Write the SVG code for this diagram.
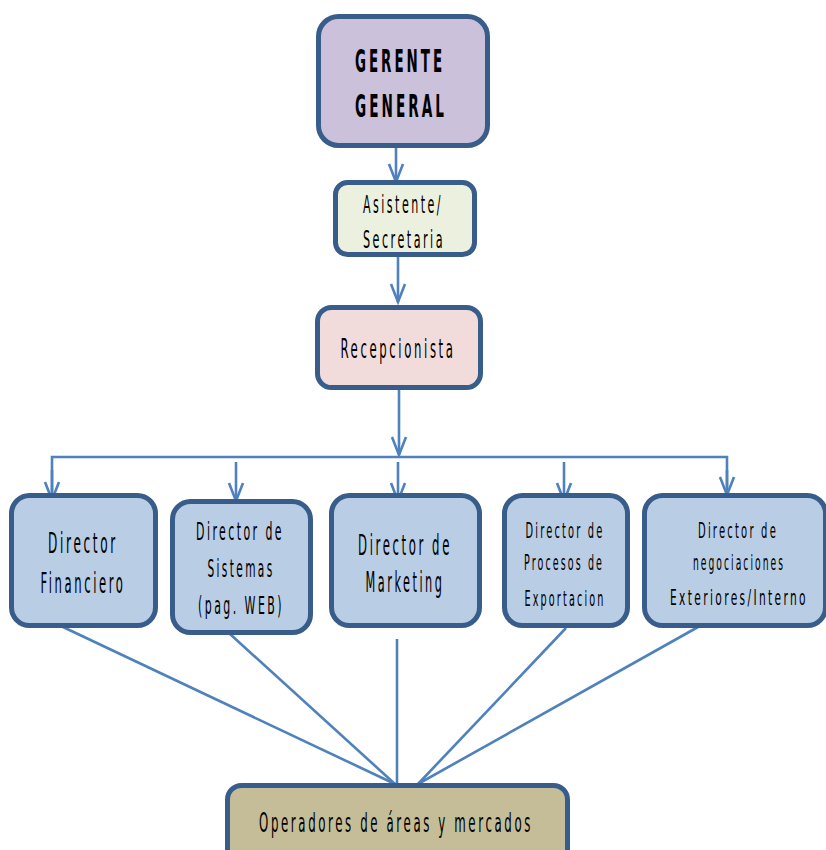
<svg xmlns="http://www.w3.org/2000/svg" width="826" height="850" viewBox="0 0 826 850">
<defs>
<style>
.box{stroke:#385D8A;stroke-width:5}
.t{font-family:"DejaVu Sans Condensed","DejaVu Sans",sans-serif;fill:#000;text-anchor:middle;letter-spacing:0.2em}
.c{stroke:#4F81BD;stroke-width:2.6;fill:none}
</style>
<marker id="ah" markerUnits="userSpaceOnUse" markerWidth="40" markerHeight="40" refX="0" refY="0" orient="auto" overflow="visible">
<path d="M-18,-7 L0,0 L-18,7" fill="none" stroke="#4F81BD" stroke-width="2.6"/>
</marker>
</defs>
<rect width="826" height="850" fill="#fff"/>
<g id="connectors">
<line class="c" x1="396" y1="148" x2="396" y2="182" marker-end="url(#ah)"/>
<line class="c" x1="398" y1="257" x2="398" y2="302" marker-end="url(#ah)"/>
<line class="c" x1="399" y1="390" x2="399" y2="455" marker-end="url(#ah)"/>
<polyline class="c" points="52,500 52,457 727,457 727,495"/>
<line class="c" x1="52" y1="470" x2="52" y2="500" marker-end="url(#ah)"/>
<line class="c" x1="727" y1="470" x2="727" y2="495" marker-end="url(#ah)"/>
<line class="c" x1="236" y1="462" x2="236" y2="501" marker-end="url(#ah)"/>
<line class="c" x1="398" y1="462" x2="398" y2="501" marker-end="url(#ah)"/>
<line class="c" x1="564" y1="462" x2="564" y2="501" marker-end="url(#ah)"/>
<line class="c" x1="63" y1="627" x2="395" y2="784"/>
<line class="c" x1="230" y1="634" x2="395" y2="784"/>
<line class="c" x1="397" y1="639" x2="397" y2="784"/>
<line class="c" x1="566" y1="628" x2="418" y2="784"/>
<line class="c" x1="698" y1="627" x2="418" y2="784"/>
</g>
<g id="gerente">
<rect class="box" x="318.5" y="16.5" width="169" height="129" rx="20" fill="#CCC1DA"/>
<text class="t" transform="translate(400,72) scale(0.503,1)" font-size="32" font-weight="bold" textLength="179" lengthAdjust="spacingAndGlyphs">GERENTE</text>
<text class="t" transform="translate(401,117) scale(0.514,1)" font-size="32" font-weight="bold" textLength="179" lengthAdjust="spacingAndGlyphs">GENERAL</text>
</g>
<g id="asistente">
<rect class="box" x="335.5" y="182.5" width="139" height="72" rx="12" fill="#EBF1DE"/>
<text class="t" transform="translate(403,213) scale(0.462,1)" font-size="24" textLength="173" lengthAdjust="spacingAndGlyphs">Asistente/</text>
<text class="t" transform="translate(404,248) scale(0.474,1)" font-size="24" textLength="173" lengthAdjust="spacingAndGlyphs">Secretaria</text>
</g>
<g id="recepcionista">
<rect class="box" x="317.5" y="307.5" width="163" height="80" rx="14" fill="#F2DCDB"/>
<text class="t" transform="translate(398,358) scale(0.455,1)" font-size="27" textLength="253" lengthAdjust="spacingAndGlyphs">Recepcionista</text>
</g>
<g id="financiero">
<rect class="box" x="11.5" y="495.5" width="144" height="130" rx="18" fill="#B9CDE5"/>
<text class="t" transform="translate(83,553) scale(0.435,1)" font-size="28" textLength="161" lengthAdjust="spacingAndGlyphs">Director</text>
<text class="t" transform="translate(83,593) scale(0.421,1)" font-size="28" textLength="202" lengthAdjust="spacingAndGlyphs">Financiero</text>
</g>
<g id="sistemas">
<rect class="box" x="172.5" y="501.5" width="138" height="131" rx="18" fill="#B9CDE5"/>
<text class="t" transform="translate(240,540) scale(0.463,1)" font-size="24" textLength="190" lengthAdjust="spacingAndGlyphs">Director de</text>
<text class="t" transform="translate(241,577) scale(0.486,1)" font-size="24" textLength="138" lengthAdjust="spacingAndGlyphs">Sistemas</text>
<text class="t" transform="translate(241,614) scale(0.497,1)" font-size="24" textLength="173" lengthAdjust="spacingAndGlyphs">(pag. WEB)</text>
</g>
<g id="marketing">
<rect class="box" x="331.5" y="495.5" width="148" height="130" rx="18" fill="#B9CDE5"/>
<text class="t" transform="translate(405,555) scale(0.423,1)" font-size="28" textLength="222" lengthAdjust="spacingAndGlyphs">Director de</text>
<text class="t" transform="translate(405,592) scale(0.436,1)" font-size="28" textLength="181" lengthAdjust="spacingAndGlyphs">Marketing</text>
</g>
<g id="procesos">
<rect class="box" x="504.5" y="495.5" width="123" height="130" rx="18" fill="#B9CDE5"/>
<text class="t" transform="translate(565,538) scale(0.454,1)" font-size="22" textLength="174" lengthAdjust="spacingAndGlyphs">Director de</text>
<text class="t" transform="translate(564,570) scale(0.46,1)" font-size="22" textLength="174" lengthAdjust="spacingAndGlyphs">Procesos de</text>
<text class="t" transform="translate(565,606) scale(0.466,1)" font-size="22" textLength="174" lengthAdjust="spacingAndGlyphs">Exportacion</text>
</g>
<g id="negociaciones">
<rect class="box" x="644.5" y="495.5" width="181" height="130" rx="18" fill="#B9CDE5"/>
<text class="t" transform="translate(738,538) scale(0.46,1)" font-size="22" textLength="174" lengthAdjust="spacingAndGlyphs">Director de</text>
<text class="t" transform="translate(739,570) scale(0.447,1)" font-size="22" textLength="206" lengthAdjust="spacingAndGlyphs">negociaciones</text>
<text class="t" transform="translate(739,605) scale(0.484,1)" font-size="22" textLength="285" lengthAdjust="spacingAndGlyphs">Exteriores/Interno</text>
</g>
<g id="operadores">
<rect class="box" x="227.5" y="785.5" width="340" height="80" rx="14" fill="#C4BD97"/>
<text class="t" transform="translate(396,832) scale(0.47,1)" font-size="27" textLength="583" lengthAdjust="spacingAndGlyphs">Operadores de áreas y mercados</text>
</g>
</svg>
